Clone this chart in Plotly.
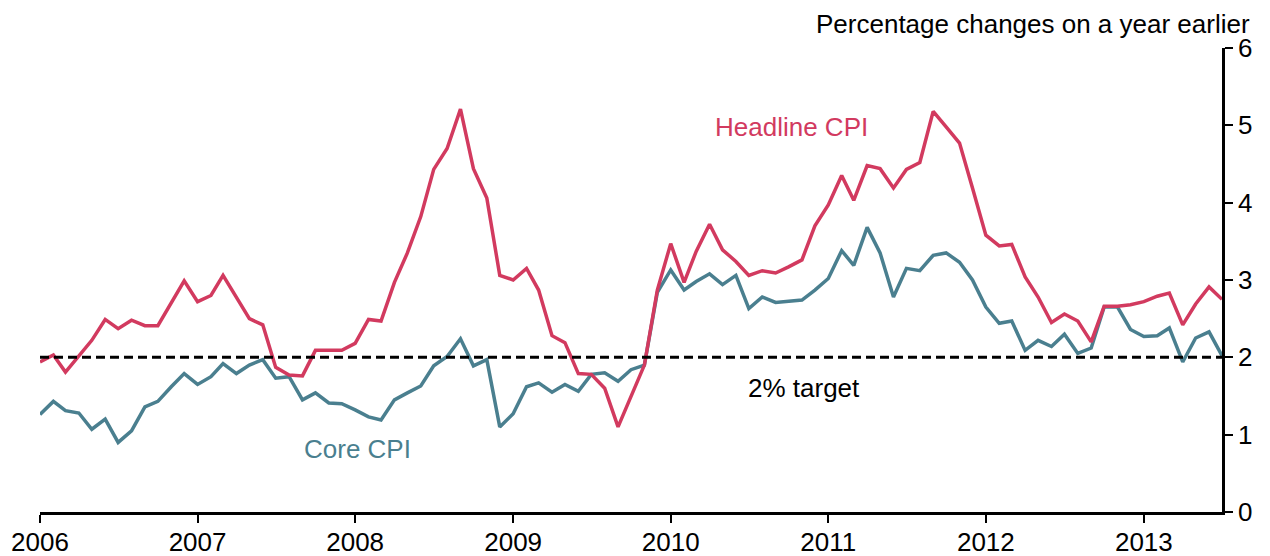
import pandas as pd
import plotly.graph_objects as go

# Monthly dates, Jan 2006 - Jul 2013
months = pd.date_range("2006-01-01", "2013-07-01", freq="MS")

# Headline CPI, % change on a year earlier
headline_cpi = [
    1.94, 2.03, 1.81, 2.02, 2.22, 2.49, 2.37, 2.48, 2.41, 2.41, 2.70, 2.99,
    2.72, 2.80, 3.06, 2.78, 2.50, 2.42, 1.87, 1.77, 1.76, 2.09, 2.09, 2.09,
    2.18, 2.49, 2.47, 2.97, 3.35, 3.82, 4.43, 4.70, 5.21, 4.44, 4.06, 3.06,
    3.00, 3.15, 2.87, 2.28, 2.19, 1.79, 1.78, 1.60, 1.10, 1.49, 1.90, 2.87,
    3.47, 2.97, 3.37, 3.72, 3.39, 3.24, 3.06, 3.12, 3.09, 3.17, 3.26, 3.70,
    3.97, 4.35, 4.03, 4.48, 4.44, 4.19, 4.43, 4.52, 5.18, 4.98, 4.77, 4.19,
    3.58, 3.44, 3.46, 3.04, 2.78, 2.45, 2.56, 2.47, 2.20, 2.66, 2.66, 2.68,
    2.72, 2.79, 2.83, 2.42, 2.69, 2.91, 2.75,
]

# Core CPI, % change on a year earlier
core_cpi = [
    1.26, 1.43, 1.31, 1.28, 1.07, 1.20, 0.90, 1.05, 1.36, 1.43, 1.62, 1.79,
    1.65, 1.75, 1.92, 1.79, 1.90, 1.97, 1.73, 1.75, 1.45, 1.54, 1.41, 1.40,
    1.32, 1.23, 1.19, 1.45, 1.54, 1.63, 1.89, 2.01, 2.24, 1.89, 1.97, 1.10,
    1.27, 1.62, 1.67, 1.55, 1.65, 1.56, 1.78, 1.80, 1.69, 1.84, 1.90, 2.84,
    3.13, 2.87, 2.98, 3.08, 2.94, 3.06, 2.63, 2.78, 2.71, 2.72, 2.74, 2.87,
    3.02, 3.38, 3.19, 3.68, 3.35, 2.78, 3.15, 3.12, 3.32, 3.35, 3.23, 3.00,
    2.65, 2.44, 2.47, 2.09, 2.22, 2.14, 2.30, 2.05, 2.12, 2.65, 2.65, 2.36,
    2.27, 2.28, 2.38, 1.94, 2.25, 2.33, 2.02,
]

target = 2
year_ticks = [f"{y}-01-01" for y in range(2006, 2014)]
year_labels = [str(y) for y in range(2006, 2014)]
y_ticks = [0, 1, 2, 3, 4, 5, 6]

RED = "#D23A5F"
TEAL = "#4A7F8F"
FONT = "Liberation Sans, Arial, sans-serif"

fig = go.Figure()

# 2% target line
fig.add_shape(type="line", xref="x", yref="y",
              x0=months[0], x1=months[-1], y0=target, y1=target,
              line=dict(color="black", width=3, dash="9px,5px"))

fig.add_trace(go.Scatter(x=months, y=core_cpi, mode="lines",
                         line=dict(color=TEAL, width=3.5), name="Core CPI"))
fig.add_trace(go.Scatter(x=months, y=headline_cpi, mode="lines",
                         line=dict(color=RED, width=3.5), name="Headline CPI"))

fig.add_annotation(x="2010-10-08", y=4.98, text="Headline CPI", showarrow=False,
                   font=dict(color=RED, size=26))
fig.add_annotation(x="2008-01-06", y=0.81, text="Core CPI", showarrow=False,
                   font=dict(color=TEAL, size=26))
fig.add_annotation(x="2010-11-06", y=1.60, text="2% target", showarrow=False,
                   font=dict(color="black", size=26))
fig.add_annotation(xref="paper", yref="paper", x=1.0255, y=1.052,
                   xanchor="right", yanchor="middle", showarrow=False,
                   text="Percentage changes on a year earlier",
                   font=dict(color="black", size=26))

# the page body adds an 8px margin, so the figure margins are offset by it
fig.update_layout(
    width=1270, height=556,
    margin=dict(l=32, r=56, t=40, b=52),
    paper_bgcolor="white", plot_bgcolor="white",
    showlegend=False,
    font=dict(family=FONT, size=26, color="black"),
    xaxis=dict(
        type="date", range=[months[0], months[-1]],
        tickvals=year_ticks, ticktext=year_labels,
        showgrid=False, zeroline=False, automargin=False,
        showline=True, linecolor="black", linewidth=2.5,
        ticks="outside", ticklen=8, tickwidth=2, tickcolor="black",
        ticklabelstandoff=-3,
    ),
    yaxis=dict(
        side="right", range=[0, 6], tickvals=y_ticks,
        showgrid=False, zeroline=False, automargin=False,
        showline=True, linecolor="black", linewidth=2.5,
        ticks="outside", ticklen=8, tickwidth=2, tickcolor="black",
    ),
)

fig.write_html("out.html")
